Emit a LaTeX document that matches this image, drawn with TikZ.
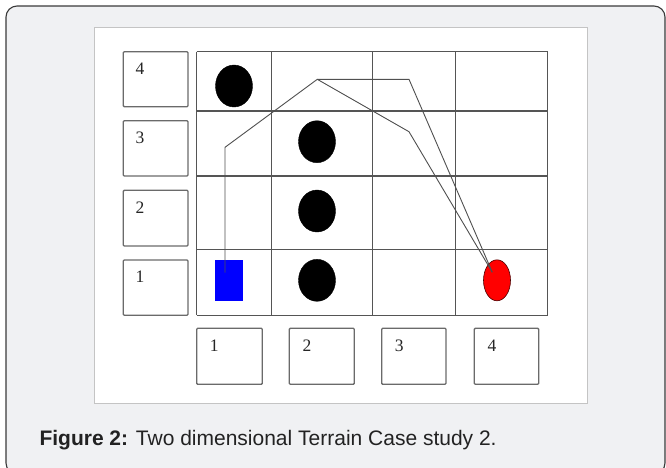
\documentclass[tikz,border=0pt]{standalone}
\usepackage{fontspec}
\setmainfont{Liberation Serif}
\newfontfamily\capfont{Liberation Sans}
\usetikzlibrary{shapes.geometric}

\definecolor{cardbg}{HTML}{F0F1F3}
\definecolor{cardline}{HTML}{3A3A3A}
\definecolor{panelline}{HTML}{C4C4C4}
\definecolor{gridline}{HTML}{555555}
\definecolor{boxline}{HTML}{6A6A6A}
\definecolor{routeline}{HTML}{505050}
\definecolor{captext}{HTML}{222222}

\tikzset{
  numbox/.style={draw=boxline, line width=1.3pt, rounded corners=1pt, fill=white,
    minimum width=#1, inner sep=0pt, outer sep=0pt},
  numtext/.style={anchor=north west, inner sep=0pt, font=\fontsize{17.5}{17.5}\selectfont, text=black!85},
  obstacle/.style={ellipse, fill=black, draw=black, minimum width=37pt, minimum height=42pt, inner sep=0pt},
  goal/.style={ellipse, fill=red, draw=black!70!red, line width=0.6pt, minimum width=27pt, minimum height=41pt, inner sep=0pt},
  robot/.style={rectangle, fill=blue, minimum width=28.3pt, minimum height=41.3pt, inner sep=0pt},
  gridrule/.style={draw=gridline, line width=1.3pt},
  route/.style={draw=routeline, line width=0.9pt, line join=miter},
}

\begin{document}
\begin{tikzpicture}[x=1pt, y=-1pt]
\useasboundingbox (0,0) rectangle (666,467);
\clip (0,0) rectangle (666,467);

% card and white figure panel
\draw[fill=cardbg, draw=cardline, line width=1.1pt, rounded corners=11pt] (6,6) rectangle (665,474);
\draw[fill=white, draw=panelline, line width=0.9pt] (94.3,27.3) rectangle (587,403.3);

% terrain grid (4 x 4 cells)
\foreach \gx in {196.7,271.3,372.3,455.3,547.7}
  \draw[gridrule] (\gx,51.7) -- (\gx,315.3);
\foreach \gy in {51.7,111,176,249.7,315.3}
  \draw[gridrule] (196.7,\gy) -- (547.7,\gy);

% row index boxes
\node[numbox=64.7pt, minimum height=55pt]   (r4) at (155.65,79.2)  {};
\node[numbox=64.7pt, minimum height=55.3pt] (r3) at (155.65,148.35) {};
\node[numbox=64.7pt, minimum height=55.7pt] (r2) at (155.65,218.15) {};
\node[numbox=64.7pt, minimum height=55.3pt] (r1) at (155.65,287.65) {};
\foreach \r in {1,...,4}
  \node[numtext] (r\r t) at ([xshift=12pt, yshift=-11pt]r\r.north west) {\r};

% column index boxes
\node[numbox=65.6pt, minimum height=56pt] (c1) at (229.5,356.3) {};
\node[numbox=65pt,   minimum height=56pt] (c2) at (321.8,356.3) {};
\node[numbox=64.3pt, minimum height=56pt] (c3) at (413.85,356.3) {};
\node[numbox=64.4pt, minimum height=56pt] (c4) at (506.5,356.3) {};
\foreach \c in {1,...,4}
  \node[numtext] (c\c t) at ([xshift=13pt, yshift=-11.5pt]c\c.north west) {\c};

% obstacles, robot and goal
\node[obstacle] (o14) at (234,86) {};
\node[obstacle] (o23) at (317,141.7) {};
\node[obstacle] (o22) at (317,211) {};
\node[obstacle] (o21) at (317,280.3) {};
\node[robot] (start) at (229.2,280.3) {};
\node[goal] (goal) at (497,280.3) {};

% candidate routes from the robot to the goal
\coordinate (p0) at (225,272.7);
\coordinate (p1) at (225,147.3);
\coordinate (p2) at (317.3,79.3);
\coordinate (p3) at (409,79.3);
\coordinate (p4) at (409,131.7);
\coordinate (p5) at (492.3,272.3);
\draw[route] (p0) -- (p1) -- (p2) -- (p3) -- (p5);
\draw[route] (p2) -- (p4) -- (p5);

% caption
\node[anchor=base west, inner sep=0pt, text=captext, font=\capfont\fontsize{21}{21}\selectfont]
  (caption) at (39.3,445) {\textbf{Figure 2:} Two dimensional Terrain Case study 2.};
\end{tikzpicture}
\end{document}
